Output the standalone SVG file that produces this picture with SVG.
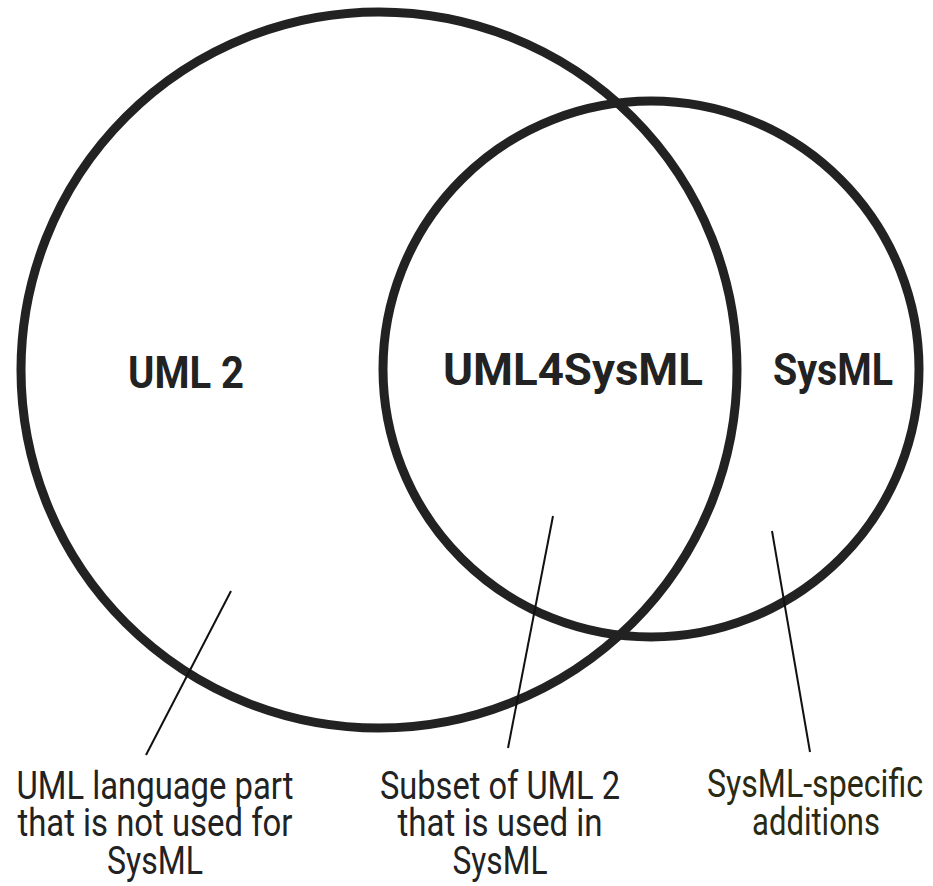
<svg xmlns="http://www.w3.org/2000/svg" width="933" height="886" viewBox="0 0 933 886">
<style>
.c{fill:none;stroke:#222;stroke-width:9}
.l{stroke:#111;stroke-width:2}
.h{font-family:Roboto,"Liberation Sans",sans-serif;font-weight:bold;font-size:44px;fill:#222;text-anchor:middle}
.t{font-family:Roboto,"Liberation Sans",sans-serif;font-size:39px;fill:#222;text-anchor:middle}
.o{fill:#2a2a12}
</style>
<rect width="933" height="886" fill="#fff"/>
<g id="uml2">
<circle class="c" cx="379" cy="370" r="358"/>
<text class="h" x="186" y="388" textLength="116" lengthAdjust="spacingAndGlyphs">UML 2</text>
</g>
<g id="sysml">
<circle class="c" cx="651" cy="369" r="268"/>
<text class="h" x="833" y="385" textLength="120" lengthAdjust="spacingAndGlyphs">SysML</text>
</g>
<g id="uml4sysml">
<text class="h" x="573" y="385" textLength="260" lengthAdjust="spacingAndGlyphs">UML4SysML</text>
</g>
<g id="connectors">
<line class="l" x1="231" y1="591" x2="146" y2="755"/>
<line class="l" x1="553" y1="516" x2="508" y2="748"/>
<line class="l" x1="772" y1="531" x2="810" y2="752"/>
</g>
<g id="note-uml2">
<text class="t" x="155" y="799" textLength="277" lengthAdjust="spacingAndGlyphs">UML language part</text>
<text class="t" x="155" y="836" textLength="275" lengthAdjust="spacingAndGlyphs">that is not used for</text>
<text class="t" x="155" y="874" textLength="96" lengthAdjust="spacingAndGlyphs">SysML</text>
</g>
<g id="note-uml4sysml">
<text class="t" x="500" y="799" textLength="240" lengthAdjust="spacingAndGlyphs">Subset of UML 2</text>
<text class="t" x="500" y="836" textLength="205" lengthAdjust="spacingAndGlyphs">that is used in</text>
<text class="t" x="500" y="874" textLength="95" lengthAdjust="spacingAndGlyphs">SysML</text>
</g>
<g id="note-sysml">
<text class="t o" x="815" y="797" textLength="216" lengthAdjust="spacingAndGlyphs">SysML-specific</text>
<text class="t o" x="816" y="835" textLength="128" lengthAdjust="spacingAndGlyphs">additions</text>
</g>
</svg>
